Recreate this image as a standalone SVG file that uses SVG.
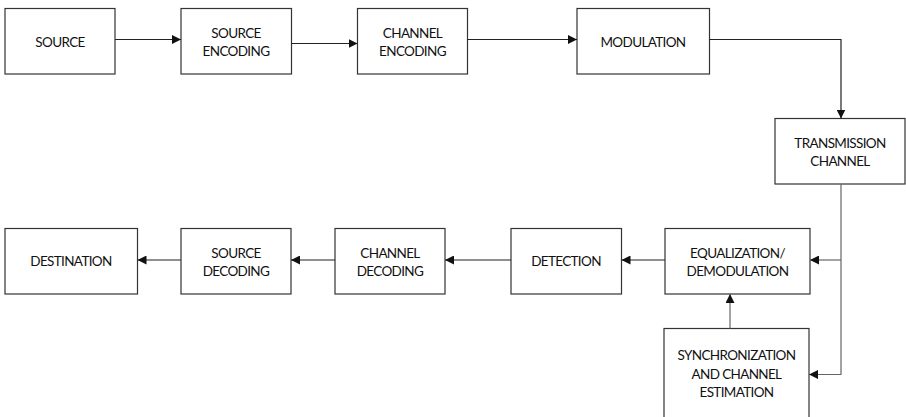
<svg xmlns="http://www.w3.org/2000/svg" width="906" height="417" viewBox="0 0 906 417">
  <defs>
    <marker id="arrow" viewBox="0 0 10 10" refX="10" refY="5" markerWidth="9" markerHeight="9" markerUnits="userSpaceOnUse" orient="auto">
      <path d="M0,0 L10,5 L0,10 z" fill="#111"/>
    </marker>
    <style>
      .box { fill: #fff; stroke: #333; stroke-width: 1.2; }
      .lbl { font-family: "Lato", "Open Sans", "DejaVu Sans", sans-serif; font-size: 13.5px; fill: #111; text-anchor: middle; letter-spacing: -0.65px; }
      .wire { fill: none; stroke: #222; stroke-width: 1.2; }
      .wire.soft { stroke: #666; }
    </style>
  </defs>
  <rect width="906" height="417" fill="#fff"/>

  <!-- transmitter chain -->
  <g id="source">
    <rect class="box" x="5" y="8.5" width="110" height="65.5"/>
    <text class="lbl" x="60" y="46.5">SOURCE</text>
  </g>
  <g id="source-encoding">
    <rect class="box" x="181" y="8.5" width="110.5" height="65.5"/>
    <text class="lbl" x="236" y="38">SOURCE</text>
    <text class="lbl" x="236" y="56">ENCODING</text>
  </g>
  <g id="channel-encoding">
    <rect class="box" x="357.5" y="8.5" width="110" height="65.5"/>
    <text class="lbl" x="412.5" y="38">CHANNEL</text>
    <text class="lbl" x="412.5" y="56">ENCODING</text>
  </g>
  <g id="modulation">
    <rect class="box" x="577" y="8.5" width="132.5" height="65.5"/>
    <text class="lbl" x="643" y="46.5">MODULATION</text>
  </g>
  <g id="transmission-channel">
    <rect class="box" x="775" y="118.5" width="130" height="65.5"/>
    <text class="lbl" x="840" y="148">TRANSMISSION</text>
    <text class="lbl" x="840" y="166">CHANNEL</text>
  </g>

  <!-- receiver chain -->
  <g id="destination">
    <rect class="box" x="5" y="228.5" width="132.5" height="65.5"/>
    <text class="lbl" x="71" y="266">DESTINATION</text>
  </g>
  <g id="source-decoding">
    <rect class="box" x="181" y="228.5" width="110" height="65.5"/>
    <text class="lbl" x="236" y="258">SOURCE</text>
    <text class="lbl" x="236" y="276">DECODING</text>
  </g>
  <g id="channel-decoding">
    <rect class="box" x="335" y="228.5" width="110" height="65.5"/>
    <text class="lbl" x="390" y="258">CHANNEL</text>
    <text class="lbl" x="390" y="276">DECODING</text>
  </g>
  <g id="detection">
    <rect class="box" x="511" y="228.5" width="110.5" height="65.5"/>
    <text class="lbl" x="566" y="266">DETECTION</text>
  </g>
  <g id="equalization">
    <rect class="box" x="665" y="228.5" width="145" height="65.5"/>
    <text class="lbl" x="737.5" y="258">EQUALIZATION/</text>
    <text class="lbl" x="737.5" y="276">DEMODULATION</text>
  </g>
  <g id="synchronization">
    <rect class="box" x="664" y="328.5" width="145" height="100"/>
    <text class="lbl" x="736.5" y="360">SYNCHRONIZATION</text>
    <text class="lbl" x="736.5" y="379">AND CHANNEL</text>
    <text class="lbl" x="736.5" y="397">ESTIMATION</text>
  </g>

  <!-- connectors -->
  <g id="connectors">
    <path class="wire" d="M115,39.5 H181" marker-end="url(#arrow)"/>
    <path class="wire" d="M291.5,43.5 H357.5" marker-end="url(#arrow)"/>
    <path class="wire" d="M467.5,39.5 H577" marker-end="url(#arrow)"/>
    <path class="wire" d="M709.5,39.5 H841 V118.5" marker-end="url(#arrow)"/>
    <path class="wire soft" d="M841,184 V374.5 H809" marker-end="url(#arrow)"/>
    <path class="wire soft" d="M841,260 H810" marker-end="url(#arrow)"/>
    <path class="wire soft" d="M730,328.5 V294" marker-end="url(#arrow)"/>
    <path class="wire" d="M665,260 H621.5" marker-end="url(#arrow)"/>
    <path class="wire" d="M511,260 H445" marker-end="url(#arrow)"/>
    <path class="wire" d="M335,260 H291" marker-end="url(#arrow)"/>
    <path class="wire" d="M181,260 H137.5" marker-end="url(#arrow)"/>
  </g>
</svg>
